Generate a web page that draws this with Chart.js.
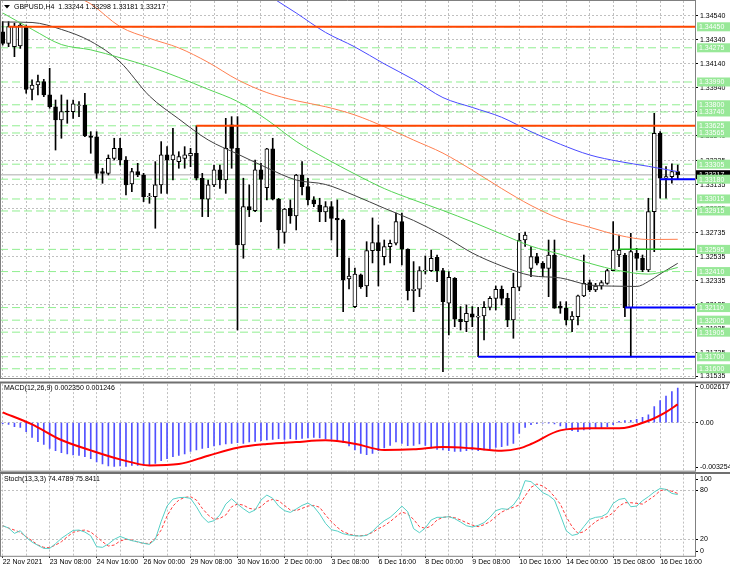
<!DOCTYPE html>
<html>
<head>
<meta charset="utf-8">
<title>GBPUSD H4</title>
<script src="https://cdn.jsdelivr.net/npm/chart.js@4.4.1/dist/chart.umd.min.js"></script>
<style>
  html, body { margin:0; padding:0; background:#fff; }
  #wrap { position:relative; width:730px; height:571px; overflow:hidden; background:#fff; }
  canvas { position:absolute; left:0; display:block; }
</style>
</head>
<body>
<div id="wrap">
  <canvas id="cMain" width="730" height="380" style="top:0;width:730px;height:380px"></canvas>
  <canvas id="cMacd" width="730" height="92" style="top:380px;width:730px;height:92px"></canvas>
  <canvas id="cStoch" width="730" height="99" style="top:472px;width:730px;height:99px"></canvas>
</div>
<script>
// ================= DATA =================
const symbolName = 'GBPUSD';
const timeframe = 'H4';

const opens = [1.34409,1.34312,1.34284,1.34290,1.34451,1.33929,1.33965,1.33993,1.33882,1.33784,
1.33673,1.33748,1.33743,1.33795,1.33798,1.33540,1.33534,1.33243,1.33229,1.33354,
1.33437,1.33340,1.33140,1.33243,1.33215,1.33034,1.33034,1.33132,1.33382,1.33340,
1.33326,1.33354,1.33373,1.33396,1.33188,1.33013,1.33132,1.33257,1.33173,1.33632,
1.33437,1.32632,1.32951,1.32918,1.33257,1.33109,1.33432,1.33013,1.32737,1.32937,
1.32873,1.33215,1.33118,1.33007,1.32965,1.32907,1.32951,1.32854,1.32840,1.32348,
1.32118,1.32382,1.32290,1.32584,1.32651,1.32534,1.32618,1.32646,1.32826,1.32596,
1.32251,1.32263,1.32418,1.32418,1.32529,1.32418,1.32146,1.32354,1.32013,1.31993,
1.32057,1.32029,1.32040,1.32112,1.32187,1.32263,1.32187,1.32007,1.32279,1.32673,
1.32437,1.32534,1.32479,1.32437,1.32548,1.32123,1.32104,1.32007,1.32034,1.32207,
1.32318,1.32257,1.32290,1.32312,1.32418,1.32548,1.32548,1.32110,1.32562,1.32520,
1.32423,1.32909,1.33562,1.33188,1.33201,1.33244];
const highs = [1.34493,1.34493,1.34480,1.34480,1.34465,1.34007,1.34048,1.34012,1.34104,1.33840,
1.33882,1.33840,1.33840,1.33826,1.33896,1.33576,1.33576,1.33271,1.33382,1.33521,
1.33521,1.33368,1.33271,1.33312,1.33229,1.33062,1.33326,1.33493,1.33451,1.33604,
1.33409,1.33451,1.33437,1.33625,1.33229,1.33173,1.33298,1.33298,1.33687,1.33701,
1.33701,1.33188,1.33132,1.33340,1.33313,1.33437,1.33521,1.33020,1.32937,1.33007,
1.33220,1.33326,1.33188,1.33034,1.33021,1.32993,1.32993,1.33007,1.32848,1.32523,
1.32440,1.32390,1.32659,1.32857,1.32798,1.32673,1.32673,1.32898,1.32898,1.32600,
1.32493,1.32451,1.32540,1.32590,1.32548,1.32437,1.32409,1.32360,1.32118,1.32132,
1.32118,1.32112,1.32159,1.32201,1.32290,1.32290,1.32229,1.32396,1.32729,1.32740,
1.32618,1.32562,1.32493,1.32673,1.32673,1.32159,1.32159,1.32076,1.32215,1.32548,
1.32340,1.32312,1.32334,1.32430,1.32826,1.32715,1.32562,1.32729,1.32604,1.32548,
1.33021,1.33729,1.33576,1.33284,1.33307,1.33298];
const lows = [1.34298,1.34284,1.34201,1.34270,1.33896,1.33840,1.33882,1.33868,1.33771,1.33423,
1.33521,1.33646,1.33687,1.33701,1.33534,1.33396,1.33187,1.33146,1.33215,1.33340,
1.33298,1.33048,1.33076,1.33201,1.32993,1.32979,1.32771,1.33062,1.33062,1.33173,
1.33271,1.33271,1.33284,1.33173,1.32868,1.32868,1.33118,1.33104,1.33062,1.33271,
1.31923,1.32521,1.32868,1.32909,1.32826,1.33007,1.33007,1.32604,1.32646,1.32812,
1.32757,1.33048,1.32965,1.32951,1.32826,1.32826,1.32673,1.32534,1.32076,1.32265,
1.32110,1.32270,1.32201,1.32482,1.32290,1.32465,1.32482,1.32632,1.32465,1.32173,
1.32076,1.32201,1.32390,1.32410,1.32326,1.31576,1.31882,1.31951,1.31923,1.31909,
1.31951,1.31700,1.31840,1.32090,1.32090,1.32132,1.31951,1.31854,1.32250,1.32620,
1.32368,1.32465,1.32368,1.32201,1.32104,1.32062,1.31965,1.31909,1.31965,1.32201,
1.32243,1.32243,1.32263,1.32304,1.32418,1.32451,1.32034,1.31700,1.32423,1.32409,
1.32409,1.32576,1.33021,1.33021,1.33146,1.33181];
const closes = [1.34312,1.34451,1.34451,1.34465,1.33929,1.33965,1.33993,1.33882,1.33784,1.33673,
1.33743,1.33740,1.33807,1.33800,1.33540,1.33529,1.33229,1.33229,1.33354,1.33437,
1.33340,1.33132,1.33243,1.33215,1.33034,1.33040,1.33132,1.33382,1.33340,1.33382,
1.33368,1.33382,1.33396,1.33188,1.33013,1.33132,1.33257,1.33173,1.33437,1.33437,
1.32632,1.32951,1.32923,1.33257,1.33179,1.33432,1.33013,1.32757,1.32930,1.32873,
1.33215,1.33118,1.33007,1.32973,1.32907,1.32951,1.32854,1.32840,1.32340,1.32373,
1.32390,1.32284,1.32584,1.32651,1.32584,1.32618,1.32646,1.32826,1.32596,1.32251,
1.32263,1.32418,1.32423,1.32521,1.32418,1.32159,1.32362,1.32013,1.31993,1.32062,
1.32029,1.32040,1.32112,1.32187,1.32263,1.32187,1.32007,1.32279,1.32673,1.32715,
1.32534,1.32479,1.32437,1.32548,1.32104,1.32104,1.32007,1.32040,1.32207,1.32312,
1.32257,1.32290,1.32318,1.32418,1.32590,1.32590,1.32110,1.32576,1.32520,1.32423,
1.32909,1.33562,1.33188,1.33201,1.33243,1.33217];

const timeLabels = ['22 Nov 2021','23 Nov 08:00','24 Nov 16:00','26 Nov 00:00','29 Nov 08:00',
  '30 Nov 16:00','2 Dec 00:00','3 Dec 08:00','6 Dec 16:00','8 Dec 00:00','9 Dec 08:00',
  '10 Dec 16:00','14 Dec 00:00','15 Dec 08:00','16 Dec 16:00'];
const timeLabelBars = [0,8,16,24,32,40,48,56,64,72,80,88,96,104,112];
const gridBars = [0,4,8,12,16,20,24,28,32,36,40,44,48,52,56,60,64,68,72,76,80,84,88,92,96,100,104,108,112,116];

const priceTicks = [1.34540,1.34340,1.34140,1.33940,1.33740,1.33540,1.33335,1.33135,
  1.32935,1.32735,1.32535,1.32335,1.32135,1.31935,1.31735,1.31535];
const levelPrices = [1.34450,1.34275,1.33990,1.33800,1.33740,1.33625,1.33565,1.33305,1.33180,
  1.33015,1.32915,1.32595,1.32410,1.32110,1.32005,1.31905,1.31700,1.31600];
const redLinePrices = [1.34450,1.33625];
const redLineStartBars = [1,33];
const blueLinePrices = [1.33180,1.32110,1.31700];
const blueLineStartBars = [112,106,81];
const greenSolidPrices = [1.32595];
const greenSolidStartBars = [105];
const currentPrice = 1.33217;

// moving averages (sampled along the picture)
const maBlackBars = [0,5,10,15,20,25,30,35,40,45,50,55,60,65,70,75,80,85,90,95,100,105,108,110,112,115];
const maBlackValues = [1.34490,1.34486,1.34428,1.34329,1.34157,1.33873,1.33682,1.33507,1.33390,1.33275,
  1.33173,1.33136,1.33043,1.32938,1.32836,1.32711,1.32565,1.32457,1.32377,1.32357,1.32298,1.32288,
  1.32286,1.32327,1.32390,1.32479];
const maGreenBars = [0,5,10,15,20,25,30,35,40,45,50,55,60,65,70,75,80,85,90,95,100,105,110,115];
const maGreenValues = [1.34565,1.34429,1.34302,1.34258,1.34192,1.34119,1.34028,1.33929,1.33828,1.33676,
  1.33495,1.33353,1.33223,1.33102,1.33007,1.32919,1.32824,1.32722,1.32622,1.32554,1.32479,1.32418,
  1.32389,1.32444];
const maOrangeBars = [13,15,20,25,30,35,40,45,50,55,60,65,70,75,80,85,90,95,100,105,110,115];
const maOrangeValues = [1.34690,1.34641,1.34451,1.34354,1.34274,1.34154,1.34009,1.33902,1.33834,1.33784,
  1.33715,1.33617,1.33506,1.33397,1.33255,1.33102,1.32961,1.32849,1.32779,1.32712,1.32677,1.32679];
const maBlueBars = [46,50,55,60,65,70,75,80,85,90,95,100,105,110,115];
const maBlueValues = [1.34690,1.34565,1.34403,1.34282,1.34141,1.34010,1.33860,1.33778,1.33696,1.33576,
  1.33471,1.33382,1.33328,1.33287,1.33243];

// MACD(12,26,9)
const macdHist = [-0.000068,-0.000113,-0.000271,-0.000316,-0.000610,-0.000994,-0.001288,-0.001469,-0.001740,-0.001898,
-0.002034,-0.002124,-0.002192,-0.002215,-0.002305,-0.002441,-0.002667,-0.002802,-0.002938,-0.002961,
-0.002938,-0.002961,-0.002893,-0.002893,-0.002893,-0.002848,-0.002757,-0.002576,-0.002441,-0.002305,
-0.002215,-0.002124,-0.001944,-0.001853,-0.001740,-0.001695,-0.001582,-0.001514,-0.001446,-0.001401,
-0.001356,-0.001401,-0.001311,-0.001266,-0.001220,-0.001175,-0.001130,-0.001085,-0.001130,-0.001085,
-0.001130,-0.001062,-0.001040,-0.000994,-0.001040,-0.001085,-0.001130,-0.001175,-0.001356,-0.001582,
-0.001853,-0.002079,-0.002170,-0.002079,-0.001898,-0.001718,-0.001537,-0.001311,-0.001401,-0.001559,
-0.001537,-0.001446,-0.001537,-0.001718,-0.001808,-0.001853,-0.001898,-0.001944,-0.001944,-0.001898,
-0.001853,-0.001898,-0.001853,-0.001763,-0.001672,-0.001627,-0.001537,-0.001401,-0.000723,-0.000316,
-0.000136,-0.000068,-0.000023,-0.000010,-0.000090,-0.000226,-0.000384,-0.000542,-0.000610,-0.000497,
-0.000452,-0.000407,-0.000362,-0.000271,-0.000136,0.000090,0.000136,0.000158,0.000226,0.000362,
0.000542,0.001085,0.001492,0.001808,0.002102,0.002350];
const macdSignalBars = [0,5,10,15,20,25,30,35,40,45,50,55,60,65,70,75,80,85,88,90,95,100,105,110,113,115];
const macdSignalValues = [0.000701,-0.000113,-0.001175,-0.001876,-0.002486,-0.002893,-0.002802,-0.002237,
  -0.001695,-0.001446,-0.001311,-0.001198,-0.001424,-0.001853,-0.001808,-0.001650,-0.001740,-0.001898,
  -0.001740,-0.001446,-0.000520,-0.000384,-0.000384,0.000136,0.000723,0.001246];
const macdAxisValues = [0.002617, 0, -0.003254];
const macdAxisText = ['0.002617', '0.00', '-0.003254'];

// Stochastic(13,3,3)
const stochMain = [36.6,33.8,27.3,30.5,22.4,16.7,12.7,9.0,9.0,14.7,
21.2,26.1,30.9,31.3,28.9,24.4,11.1,10.3,14.3,20.0,
23.6,20.8,18.4,17.1,15.1,13.9,20.0,41.9,60.5,69.0,
70.7,71.1,69.9,59.7,47.6,40.7,42.7,49.6,62.9,69.4,
62.9,57.3,52.4,55.7,67.8,73.9,69.9,60.5,54.9,52.8,
56.9,61.3,64.2,59.7,50.8,39.4,31.7,30.1,26.9,25.3,
24.4,24.0,24.8,29.7,37.0,42.7,46.8,53.2,60.5,53.6,
33.0,28.1,33.8,43.6,46.8,46.8,47.6,45.2,41.1,36.6,
35.0,37.0,40.3,46.8,54.9,57.3,56.5,61.8,71.9,91.4,
90.2,84.1,76.8,73.5,67.8,49.6,30.5,24.8,26.5,35.4,
44.3,46.8,47.6,51.6,63.8,68.6,69.9,59.7,60.5,67.0,
71.9,77.6,82.0,80.8,75.9,74.4789];
const stochSignal = [36.6,33.8,31.3,28.5,23.2,18.4,13.1,10.3,9.8,13.1,
17.1,23.2,28.5,30.5,31.3,28.9,23.2,17.1,11.9,13.1,
18.0,20.0,19.2,16.7,15.1,15.1,21.2,31.3,48.4,60.5,
67.8,71.1,71.9,67.8,57.7,49.6,44.3,45.5,49.6,59.7,
62.9,61.7,57.7,56.5,59.7,66.2,68.6,67.0,61.3,55.7,
54.9,57.7,60.5,61.3,59.0,49.6,41.5,34.6,29.3,26.5,
24.4,24.4,25.3,28.5,33.0,36.6,41.5,47.6,53.2,50.8,
44.3,35.4,33.4,36.2,43.6,46.8,47.6,46.4,43.6,40.3,
37.4,35.4,37.8,41.5,47.6,53.2,56.5,59.0,61.8,72.7,
83.3,87.3,84.9,80.0,71.9,62.9,47.6,35.4,27.3,29.3,
35.4,41.5,45.5,47.6,52.4,60.5,64.6,64.6,63.8,62.9,
67.8,72.7,79.2,80.8,78.4,75.8411];
const stochAxisValues = [100, 80, 20, 0];
const stochAxisText = ['100', '80', '20', '0'];

// ================= RENDERING =================
const FONT = "'Liberation Sans', Arial, sans-serif";
Chart.defaults.font.family = FONT;
Chart.defaults.font.size = 7;
Chart.defaults.color = '#000';
Chart.defaults.animation = false;

const X_MIN = -0.46, X_MAX = 117.94;
const PRICE_MIN = 1.31523, PRICE_MAX = 1.34665;
const MACD_PLOT_H = 86.6, STOCH_PLOT_H = 82.2;
const GRID = '#c0c0c0';
const bars = opens.map((_, i) => i);

function xAxis(showLabels, height) {
  return {
    type: 'linear', min: X_MIN, max: X_MAX, offset: false,
    afterBuildTicks: s => { s.ticks = gridBars.map(v => ({ value: v })); },
    afterFit: s => { s.height = height; s.paddingLeft = 0; s.paddingRight = 0; },
    grid: {
      color: GRID, lineWidth: 1, offset: false, drawTicks: showLabels, tickLength: 2, tickWidth: 1,
      tickColor: c => (c.tick && timeLabelBars.includes(c.tick.value)) ? '#000' : 'rgba(0,0,0,0)'
    },
    border: { display: false, dash: [2, 2] },
    ticks: {
      display: showLabels, autoSkip: false, maxRotation: 0, minRotation: 0, align: 'start', padding: 0,
      color: '#000', font: { size: 7 },
      callback: v => { const k = timeLabelBars.indexOf(v); return k >= 0 ? timeLabels[k] : ''; }
    }
  };
}

function rightAxis(min, max, tickValues, labelFn, gridFn) {
  return {
    type: 'linear', position: 'right', min, max,
    afterBuildTicks: s => { s.ticks = tickValues.map(v => ({ value: v })); },
    afterFit: s => { s.width = 35; s.paddingTop = 0; s.paddingBottom = 0; },
    grid: { color: gridFn, lineWidth: 1, drawTicks: true, tickLength: 3, tickColor: '#000', tickWidth: 1 },
    border: { display: false, dash: [2, 2] },
    ticks: { autoSkip: false, padding: 2, color: '#000', font: { size: 7 }, callback: labelFn }
  };
}

function hLine(price, startBar, color, width, dash, order) {
  return {
    type: 'line', data: [{ x: startBar, y: price }, { x: X_MAX, y: price }],
    borderColor: color, borderWidth: width, borderDash: dash, pointRadius: 0, order
  };
}

function maLine(barsArr, values, color) {
  return {
    type: 'line', data: barsArr.map((b, k) => ({ x: b, y: values[k] })),
    borderColor: color, borderWidth: 1, pointRadius: 0, cubicInterpolationMode: 'monotone', order: 20
  };
}

// ---------- main price pane ----------
const mainDecor = {
  id: 'mainDecor',
  afterDraw(chart) {
    const { ctx, chartArea: a, scales: { y } } = chart;
    ctx.save();
    ctx.strokeStyle = '#808080'; ctx.lineWidth = 1;
    ctx.beginPath();
    ctx.moveTo(0.5, 0); ctx.lineTo(0.5, a.bottom + 0.5);
    ctx.moveTo(0, 0.5); ctx.lineTo(a.right, 0.5);
    ctx.moveTo(a.right + 0.5, 0); ctx.lineTo(a.right + 0.5, a.bottom + 1);
    ctx.moveTo(0, a.bottom + 0.5); ctx.lineTo(a.right, a.bottom + 0.5);
    ctx.stroke();

    ctx.font = '7px ' + FONT; ctx.textBaseline = 'middle'; ctx.textAlign = 'left';
    const cy = y.getPixelForValue(currentPrice);
    ctx.fillStyle = '#000'; ctx.fillRect(a.right + 1, cy - 4.5, 34, 9);
    ctx.fillStyle = '#fff'; ctx.fillText(currentPrice.toFixed(5), a.right + 4, cy + 0.5);
    levelPrices.forEach(p => {
      const py = y.getPixelForValue(p);
      ctx.fillStyle = '#98e898'; ctx.fillRect(a.right + 2, py - 4.5, 33, 9);
      ctx.fillStyle = '#ffffff'; ctx.fillText(p.toFixed(5), a.right + 4, py + 0.5);
    });

    // header
    ctx.fillStyle = '#000';
    ctx.beginPath(); ctx.moveTo(4, 5); ctx.lineTo(10, 5); ctx.lineTo(7, 8.5); ctx.closePath(); ctx.fill();
    const last = opens.length - 1;
    const header = symbolName + ',' + timeframe + '  ' + opens[last].toFixed(5) + ' ' + highs[last].toFixed(5) +
      ' ' + lows[last].toFixed(5) + ' ' + closes[last].toFixed(5);
    ctx.fillText(header, 14, 7);
    ctx.restore();
  }
};

const mainDatasets = [];
levelPrices.forEach(p => mainDatasets.push(hLine(p, X_MIN, '#90ee90', 1, [8, 4], 60)));
mainDatasets.push(hLine(currentPrice, X_MIN, '#c8c8c8', 1.5, [], 55));
mainDatasets.push({
  type: 'bar', data: bars.map(i => ({ x: i, y: [lows[i], highs[i]] })),
  backgroundColor: '#000', borderWidth: 0, barThickness: 1, grouped: false, order: 40
});
mainDatasets.push({
  type: 'bar', data: bars.map(i => ({ x: i, y: [opens[i], closes[i]] })),
  backgroundColor: bars.map(i => closes[i] >= opens[i] ? '#ffffff' : '#000000'),
  borderColor: '#000', borderWidth: 1, borderSkipped: false, barThickness: 4, grouped: false, order: 30
});
mainDatasets.push(maLine(maBlueBars, maBlueValues, '#4a4aff'));
mainDatasets.push(maLine(maOrangeBars, maOrangeValues, '#ff7f50'));
mainDatasets.push(maLine(maGreenBars, maGreenValues, '#55d455'));
mainDatasets.push(maLine(maBlackBars, maBlackValues, '#404040'));
greenSolidPrices.forEach((p, k) => mainDatasets.push(hLine(p, greenSolidStartBars[k], '#22bb22', 1.5, [], 12)));
redLinePrices.forEach((p, k) => mainDatasets.push(hLine(p, redLineStartBars[k], '#ff4500', 2, [], 10)));
blueLinePrices.forEach((p, k) => mainDatasets.push(hLine(p, blueLineStartBars[k], '#0000ff', 2, [], 10)));

new Chart(document.getElementById('cMain'), {
  type: 'bar',
  data: { datasets: mainDatasets },
  options: {
    responsive: false, maintainAspectRatio: false, animation: false,
    layout: { padding: { top: 1, bottom: 2, left: 0, right: 0 } },
    plugins: { legend: { display: false }, tooltip: { enabled: false }, title: { display: false } },
    scales: {
      x: xAxis(false, 0),
      y: rightAxis(PRICE_MIN, PRICE_MAX, priceTicks, v => v.toFixed(5), () => GRID)
    }
  },
  plugins: [mainDecor]
});

// ---------- MACD pane ----------
const macdMin = macdAxisValues[2], macdMax = macdAxisValues[0];
const macdVpp = (macdMax - macdMin) / MACD_PLOT_H;
const macdTickPos = [macdMax - 2.6 * macdVpp, 0, macdMin + 3.4 * macdVpp];

const macdDecor = {
  id: 'macdDecor',
  afterDraw(chart) {
    const { ctx, chartArea: a } = chart;
    ctx.save();
    ctx.strokeStyle = '#707070'; ctx.lineWidth = 2;
    ctx.beginPath(); ctx.moveTo(0, 2.5); ctx.lineTo(730, 2.5); ctx.stroke();
    ctx.strokeStyle = '#808080'; ctx.lineWidth = 1;
    ctx.beginPath();
    ctx.moveTo(0.5, 3); ctx.lineTo(0.5, a.bottom + 0.5);
    ctx.moveTo(a.right + 0.5, 3); ctx.lineTo(a.right + 0.5, a.bottom + 1);
    ctx.moveTo(0, a.bottom + 0.5); ctx.lineTo(a.right, a.bottom + 0.5);
    ctx.stroke();
    ctx.fillStyle = '#000'; ctx.font = '7px ' + FONT; ctx.textBaseline = 'middle'; ctx.textAlign = 'left';
    const last = macdHist.length - 1;
    ctx.fillText('MACD(12,26,9) ' + macdHist[last].toFixed(6) + ' ' +
      macdSignalValues[macdSignalValues.length - 1].toFixed(6), 4, 8.5);
    ctx.restore();
  }
};

new Chart(document.getElementById('cMacd'), {
  type: 'bar',
  data: {
    datasets: [
      {
        type: 'line', data: macdSignalBars.map((b, k) => ({ x: b, y: macdSignalValues[k] })),
        borderColor: '#ff0000', borderWidth: 2, pointRadius: 0, cubicInterpolationMode: 'monotone', order: 1
      },
      {
        type: 'bar', data: bars.map(i => ({ x: i, y: macdHist[i] })),
        backgroundColor: '#5050ff', borderWidth: 0, barThickness: 1, grouped: false, order: 2
      }
    ]
  },
  options: {
    responsive: false, maintainAspectRatio: false, animation: false,
    layout: { padding: { top: 4.1, bottom: 1.3, left: 0, right: 0 } },
    plugins: { legend: { display: false }, tooltip: { enabled: false } },
    scales: {
      x: xAxis(false, 0),
      y: rightAxis(macdMin, macdMax, macdTickPos,
        (v, idx) => macdAxisText[idx],
        c => (c.tick && c.tick.value === 0) ? GRID : 'rgba(0,0,0,0)')
    }
  },
  plugins: [macdDecor]
});

// ---------- Stochastic pane ----------
const stochVpp = 100 / STOCH_PLOT_H;
const stochTickPos = [100 - 5.4 * stochVpp, 80, 20, 4.8 * stochVpp];

const stochDecor = {
  id: 'stochDecor',
  afterDraw(chart) {
    const { ctx, chartArea: a } = chart;
    ctx.save();
    ctx.strokeStyle = '#707070'; ctx.lineWidth = 2;
    ctx.beginPath(); ctx.moveTo(0, 1); ctx.lineTo(730, 1); ctx.stroke();
    ctx.strokeStyle = '#808080'; ctx.lineWidth = 1;
    ctx.beginPath();
    ctx.moveTo(0.5, 1); ctx.lineTo(0.5, a.bottom + 0.5);
    ctx.moveTo(a.right + 0.5, 1); ctx.lineTo(a.right + 0.5, a.bottom + 1);
    ctx.moveTo(0, a.bottom + 0.5); ctx.lineTo(a.right + 1, a.bottom + 0.5);
    ctx.stroke();
    ctx.fillStyle = '#000'; ctx.font = '7px ' + FONT; ctx.textBaseline = 'middle'; ctx.textAlign = 'left';
    const last = stochMain.length - 1;
    ctx.fillText('Stoch(13,3,3) ' + stochMain[last].toFixed(4) + ' ' + stochSignal[last].toFixed(4), 4, 7.5);
    ctx.restore();
  }
};

new Chart(document.getElementById('cStoch'), {
  type: 'line',
  data: {
    datasets: [
      {
        data: bars.map(i => ({ x: i, y: stochMain[i] })),
        borderColor: '#55d0c6', borderWidth: 1, pointRadius: 0, tension: 0, order: 1
      },
      {
        data: bars.map(i => ({ x: i, y: stochSignal[i] })),
        borderColor: '#ff3b3b', borderWidth: 1, borderDash: [3, 2], pointRadius: 0, tension: 0, order: 2
      }
    ]
  },
  options: {
    responsive: false, maintainAspectRatio: false, animation: false,
    layout: { padding: { top: 1.6, bottom: 0, left: 0, right: 0 } },
    plugins: { legend: { display: false }, tooltip: { enabled: false } },
    scales: {
      x: xAxis(true, 15.2),
      y: rightAxis(0, 100, stochTickPos,
        (v, idx) => stochAxisText[idx],
        c => (c.tick && (c.tick.value === 80 || c.tick.value === 20)) ? GRID : 'rgba(0,0,0,0)')
    }
  },
  plugins: [stochDecor]
});
</script>
</body>
</html>
